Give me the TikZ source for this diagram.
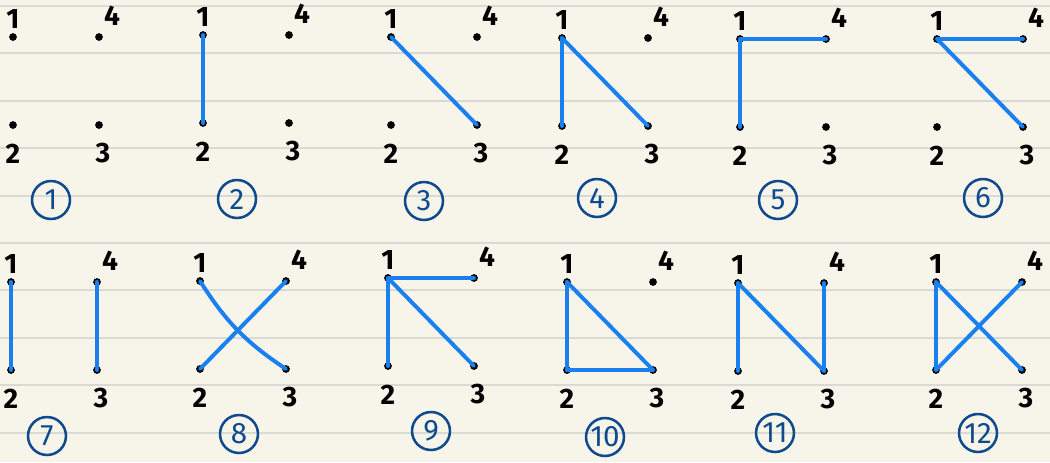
\documentclass[tikz,border=0pt]{standalone}
\usepackage{fontspec}
\setmainfont{Fira Sans}
\definecolor{paper}{HTML}{F7F5EA}
\definecolor{rulegray}{HTML}{D9D9D5}
\definecolor{linkblue}{HTML}{1A7FEF}
\definecolor{numblue}{HTML}{104A8E}
\tikzset{
  dot/.style={circle, fill=black, inner sep=0pt, minimum size=5.5pt},
  lbl/.style={inner sep=0pt, font=\fontsize{20}{20}\selectfont\bfseries},
  num/.style={circle, draw=numblue, line width=1.8pt, minimum size=27pt,
    inner sep=0pt, text=numblue, font=\fontsize{21}{21}\selectfont},
  link/.style={draw=linkblue, line width=2.8pt, line cap=round},
  rule/.style={draw=rulegray, line width=1.3pt}
}
\begin{document}
\begin{tikzpicture}[x=0.025cm, y=-0.025cm]
  \fill[paper] (0,0) rectangle (1050,462);
  \useasboundingbox (0,0) rectangle (1050,462);
  % ruled paper
  \foreach \k in {0,...,9}
    \draw[rule] (0,{6+47.4*\k}) -- (1050,{6+47.4*\k});
  % four points per panel, with their numbers
  \foreach \p/\x/\y/\cx/\cy in {1/13/37/51/200, 2/203/35/237/199,
      3/391/37/424/201, 4/562/38/597/198, 5/740/39/778/200,
      6/937/39/983/198, 7/11/282/47/436, 8/200/281/239/434,
      9/388/278/431/431, 10/567/282/605/437, 11/738/283/775/433,
      12/936/282/978/433} {
    \node[dot] (p\p-1) at (\x,\y) {};
    \node[dot] (p\p-4) at ({\x+86},\y) {};
    \node[dot] (p\p-2) at (\x,{\y+88}) {};
    \node[dot] (p\p-3) at ({\x+86},{\y+88}) {};
    \node[lbl] (p\p-t1) at (\x,{\y-18}) {1};
    \node[lbl] (p\p-t4) at ({\x+99},{\y-21}) {4};
    \node[lbl] (p\p-t2) at (\x,{\y+117}) {2};
    \node[lbl] (p\p-t3) at ({\x+90},{\y+116}) {3};
    \node[num] (n\p) at (\cx,\cy) {\p};
  }
  % the links
  \foreach \p/\a/\b in {2/1/2, 3/1/3, 4/1/2, 4/1/3, 5/1/2, 5/1/4,
      6/1/4, 6/1/3, 7/1/2, 7/4/3, 8/2/4, 9/1/2, 9/1/4, 9/1/3,
      10/1/2, 10/1/3, 10/2/3, 11/1/2, 11/1/3, 11/4/3,
      12/1/2, 12/1/3, 12/2/4}
    \draw[link] (p\p-\a.center) -- (p\p-\b.center);
  \draw[link] (p8-1.center) to[bend right=12] (p8-3.center);
\end{tikzpicture}
\end{document}
